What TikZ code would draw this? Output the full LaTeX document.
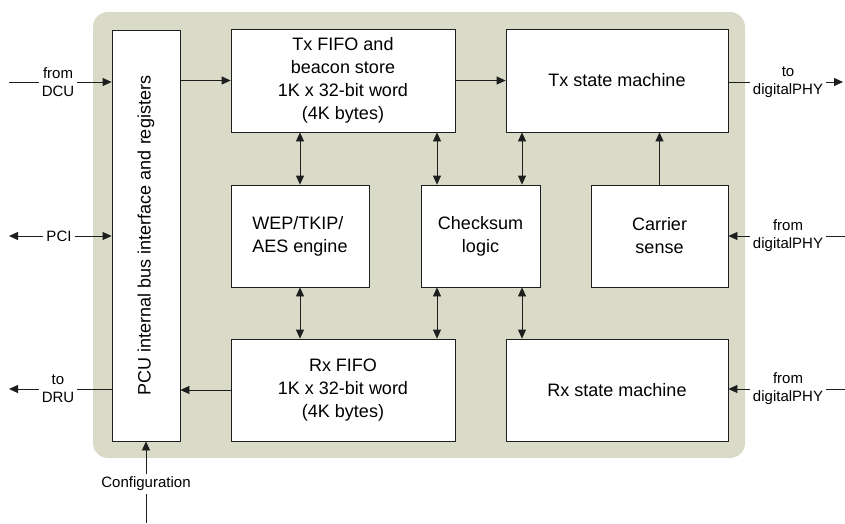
\documentclass[tikz,border=0pt]{standalone}
\usepackage{fontspec}
\setmainfont{Liberation Sans}
\usetikzlibrary{arrows.meta}
\definecolor{panel}{RGB}{218,218,200}
\definecolor{ink}{RGB}{30,30,30}

\begin{document}
\begin{tikzpicture}[x=1pt, y=-1pt, >={Triangle[length=9pt,width=8pt]},
  blk/.style={draw=ink, fill=white, line width=0.8pt, inner sep=0pt, align=center, font=\fontsize{18}{23}\selectfont},
  lbl/.style={inner sep=3pt, align=center, font=\fontsize{15}{18}\selectfont},
  n/.style={->, draw=ink, line width=0.8pt},
  b/.style={<->, draw=ink, line width=0.8pt},
  l/.style={draw=ink, line width=0.8pt}]
\useasboundingbox (0,0) rectangle (845,523);
% panel
\fill[panel, rounded corners=15pt] (93,12) rectangle (745,458);
% blocks
\node[blk, minimum width=68, minimum height=411] (pcu) at (146,235.5) {\rotatebox{90}{PCU internal bus interface and registers}};
\node[blk, minimum width=224, minimum height=103] (txf) at (343,80.5) {Tx FIFO and\\beacon store\\1K x 32-bit word\\(4K bytes)};
\node[blk, minimum width=222, minimum height=103] (txs) at (617,80.5) {Tx state machine};
\node[blk, minimum width=138, minimum height=102, align=left] (wep) at (300,236) {WEP/TKIP/\\AES engine};
\node[blk, minimum width=119, minimum height=102] (chk) at (480.5,236) {Checksum\\logic};
\node[blk, minimum width=137, minimum height=102] (car) at (659.5,236) {Carrier\\sense};
\node[blk, minimum width=224, minimum height=102] (rxf) at (343,390) {Rx FIFO\\1K x 32-bit word\\(4K bytes)};
\node[blk, minimum width=222, minimum height=102] (rxs) at (617,390) {Rx state machine};
% labels
\node[lbl] (dcu) at (58,82) {from\\DCU};
\node[lbl] (pci) at (59,236) {PCI};
\node[lbl] (dru) at (58,389) {to\\DRU};
\node[lbl] (cfg) at (146,484) {Configuration};
\node[lbl] (phyo) at (788,82) {to\\digitalPHY};
\node[lbl] (phyc) at (788,236) {from\\digitalPHY};
\node[lbl] (phyr) at (788,389) {from\\digitalPHY};
% free ends
\coordinate (dcuin) at (9,82);
\coordinate (pciout) at (9,236);
\coordinate (druout) at (9,389);
\coordinate (cfgin) at (146,523);
\coordinate (phyout) at (843,82);
\coordinate (phycin) at (845,236);
\coordinate (phyrin) at (845,389);
\coordinate (cl) at (437,0);
\coordinate (cr) at (522,0);
% edges
\draw[l] (dcuin) -- (dcu.west);
\draw[n] (dcu.east) -- (dcu.east -| pcu.west);
\draw[n] (pci.west) -- (pciout);
\draw[n] (pci.east) -- (pci.east -| pcu.west);
\draw[n] (dru.west) -- (druout);
\draw[l] (dru.east -| pcu.west) -- (dru.east);
\draw[l] (cfgin) -- (cfg.south);
\draw[n] (cfg.north) -- (cfg.north |- pcu.south);
\draw[n] (pcu.east |- txf.west) -- (txf.west);
\draw[n] (txf.east) -- (txs.west);
\draw[n] (rxf.west) -- (rxf.west -| pcu.east);
\draw[n] (car.north) -- (car.north |- txs.south);
\draw[b] (wep.north |- txf.south) -- (wep.north);
\draw[b] (wep.south) -- (wep.south |- rxf.north);
\draw[b] (cl |- txf.south) -- (cl |- chk.north);
\draw[b] (cl |- chk.south) -- (cl |- rxf.north);
\draw[b] (cr |- txs.south) -- (cr |- chk.north);
\draw[b] (cr |- chk.south) -- (cr |- rxs.north);
\draw[l] (phyo.west -| txs.east) -- (phyo.west);
\draw[n] (phyo.east) -- (phyout);
\draw[l] (phycin) -- (phyc.east);
\draw[n] (phyc.west) -- (phyc.west -| car.east);
\draw[l] (phyrin) -- (phyr.east);
\draw[n] (phyr.west) -- (phyr.west -| rxs.east);
\end{tikzpicture}
\end{document}
